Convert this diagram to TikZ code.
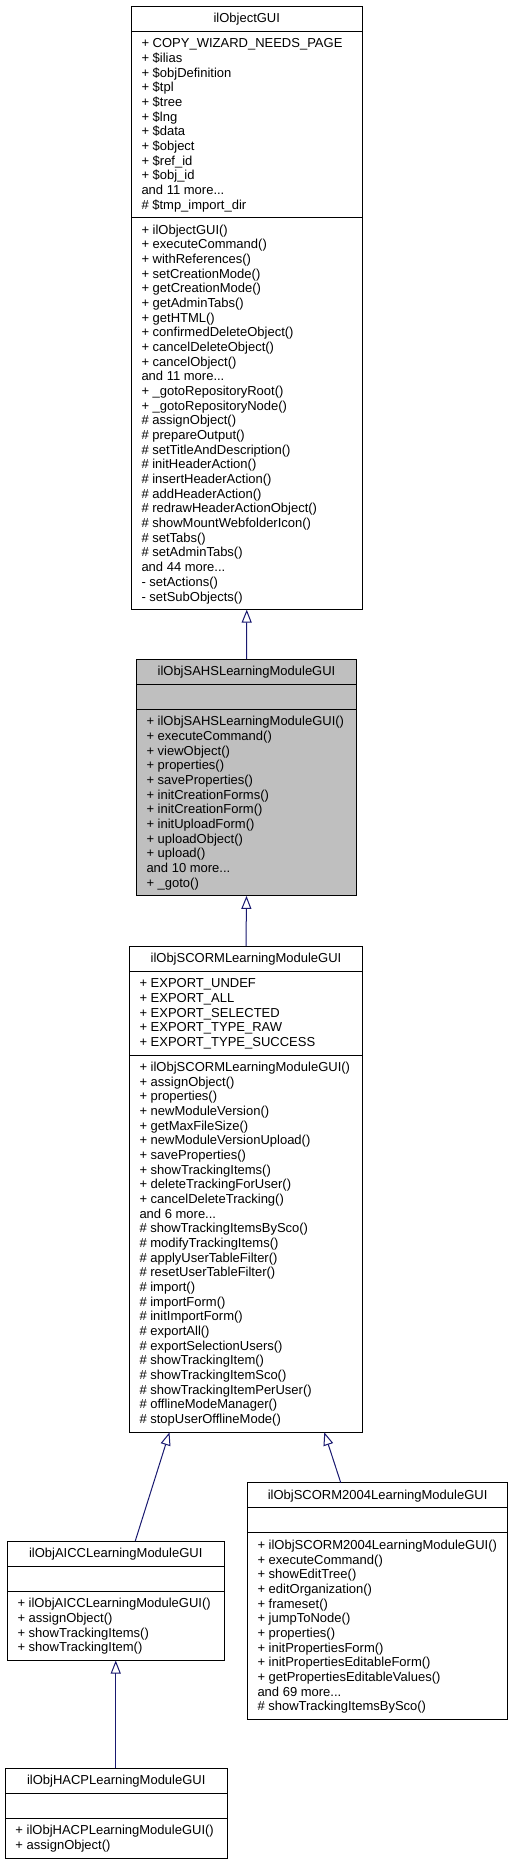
\documentclass[tikz,border=0pt]{standalone}
\usepackage{fontspec}
\setmainfont{Liberation Sans}
\usetikzlibrary{arrows.meta}
\definecolor{edgeblue}{HTML}{191970}
\definecolor{sahsgray}{HTML}{BFBFBF}
\newcommand\fs{\fontsize{13.0}{14.67}\selectfont}
\newcommand\ddd{...}
\tikzset{
  clsbox/.style={draw=black, line width=0.9pt},
  sepline/.style={draw=black, line width=0.9pt},
  txt/.style={anchor=base west, inner sep=0pt, outer sep=0pt, font=\fs},
  ttl/.style={anchor=base, inner sep=0pt, outer sep=0pt, font=\fs},
  inh/.style={draw=edgeblue, line width=1pt, -{Triangle[open, length=13pt, width=10pt, line width=1pt]}},
}
% #1 prefix, #2 text left x, #3 field top y, #4 list
\newcommand\flines[4]{%
  \foreach \t [count=\i from 0] in {#4} {
    \node[txt] (#1\i) at ({#2},{#3+5.25+\i*14.67+11.3}) {\t};
  }%
}
% #1 name, #2 left, #3 right, #4 top, #5 bottom, #6 fill, #7 title
\newcommand\clsframe[7]{%
  \node[clsbox, fill=#6, inner sep=0pt, outer sep=0pt, minimum width={(#3-#2)*1pt}, minimum height={(#5-#4)*1pt}] (#1) at ({(#2+#3)/2},{(#4+#5)/2}) {};
  \node[ttl] (#1-t) at ({(#2+#3)/2},{#4+5.25+11.3}) {#7};
}
\begin{document}
\begin{tikzpicture}[x=1pt,y=-1pt]
\path[use as bounding box, fill=white] (0,0) rectangle (515,1865);

% ilObjectGUI
\clsframe{objgui}{131.5}{362}{6}{609.6}{white}{ilObjectGUI}
\draw[sepline] (objgui.west |- 0,31.2) -- (objgui.east |- 0,31.2);
\draw[sepline] (objgui.west |- 0,217.7) -- (objgui.east |- 0,217.7);
\flines{objgui-a}{141.5}{31.2}{+ COPY\_WIZARD\_NEEDS\_PAGE, + \$ilias, + \$objDefinition, + \$tpl, + \$tree, + \$lng, + \$data, + \$object, + \$ref\_id, + \$obj\_id, and 11 more\ddd, \# \$tmp\_import\_dir}
\flines{objgui-m}{141.5}{217.7}{+ ilObjectGUI(), + executeCommand(), + withReferences(), + setCreationMode(), + getCreationMode(), + getAdminTabs(), + getHTML(), + confirmedDeleteObject(), + cancelDeleteObject(), + cancelObject(), and 11 more\ddd, + \_gotoRepositoryRoot(), + \_gotoRepositoryNode(), \# assignObject(), \# prepareOutput(), \# setTitleAndDescription(), \# initHeaderAction(), \# insertHeaderAction(), \# addHeaderAction(), \# redrawHeaderActionObject(), \# showMountWebfolderIcon(), \# setTabs(), \# setAdminTabs(), and 44 more\ddd, - setActions(), - setSubObjects()}

% ilObjSAHSLearningModuleGUI
\clsframe{sahs}{136.5}{356.5}{659}{895.9}{sahsgray}{ilObjSAHSLearningModuleGUI}
\draw[sepline] (sahs.west |- 0,684.2) -- (sahs.east |- 0,684.2);
\draw[sepline] (sahs.west |- 0,709.3) -- (sahs.east |- 0,709.3);
\flines{sahs-m}{146.5}{709.3}{+ ilObjSAHSLearningModuleGUI(), + executeCommand(), + viewObject(), + properties(), + saveProperties(), + initCreationForms(), + initCreationForm(), + initUploadForm(), + uploadObject(), + upload(), and 10 more\ddd, + \_goto()}

% ilObjSCORMLearningModuleGUI
\clsframe{scorm}{129.5}{362.5}{946}{1432.3}{white}{ilObjSCORMLearningModuleGUI}
\draw[sepline] (scorm.west |- 0,971.2) -- (scorm.east |- 0,971.2);
\draw[sepline] (scorm.west |- 0,1055) -- (scorm.east |- 0,1055);
\flines{scorm-a}{139.5}{971.2}{+ EXPORT\_UNDEF, + EXPORT\_ALL, + EXPORT\_SELECTED, + EXPORT\_TYPE\_RAW, + EXPORT\_TYPE\_SUCCESS}
\flines{scorm-m}{139.5}{1055}{+ ilObjSCORMLearningModuleGUI(), + assignObject(), + properties(), + newModuleVersion(), + getMaxFileSize(), + newModuleVersionUpload(), + saveProperties(), + showTrackingItems(), + deleteTrackingForUser(), + cancelDeleteTracking(), and 6 more\ddd, \# showTrackingItemsBySco(), \# modifyTrackingItems(), \# applyUserTableFilter(), \# resetUserTableFilter(), \# import(), \# importForm(), \# initImportForm(), \# exportAll(), \# exportSelectionUsers(), \# showTrackingItem(), \# showTrackingItemSco(), \# showTrackingItemPerUser(), \# offlineModeManager(), \# stopUserOfflineMode()}

% ilObjSCORM2004LearningModuleGUI
\clsframe{scormtwo}{247.5}{507.7}{1482.5}{1719.4}{white}{ilObjSCORM2004LearningModuleGUI}
\draw[sepline] (scormtwo.west |- 0,1507.7) -- (scormtwo.east |- 0,1507.7);
\draw[sepline] (scormtwo.west |- 0,1532.8) -- (scormtwo.east |- 0,1532.8);
\flines{scormtwo-m}{257.5}{1532.8}{+ ilObjSCORM2004LearningModuleGUI(), + executeCommand(), + showEditTree(), + editOrganization(), + frameset(), + jumpToNode(), + properties(), + initPropertiesForm(), + initPropertiesEditableForm(), + getPropertiesEditableValues(), and 69 more\ddd, \# showTrackingItemsBySco()}

% ilObjAICCLearningModuleGUI
\clsframe{aicc}{7.5}{224}{1541}{1660.5}{white}{ilObjAICCLearningModuleGUI}
\draw[sepline] (aicc.west |- 0,1566.2) -- (aicc.east |- 0,1566.2);
\draw[sepline] (aicc.west |- 0,1591.3) -- (aicc.east |- 0,1591.3);
\flines{aicc-m}{17.5}{1591.3}{+ ilObjAICCLearningModuleGUI(), + assignObject(), + showTrackingItems(), + showTrackingItem()}

% ilObjHACPLearningModuleGUI
\clsframe{hacp}{5.5}{227}{1768}{1858.2}{white}{ilObjHACPLearningModuleGUI}
\draw[sepline] (hacp.west |- 0,1793.2) -- (hacp.east |- 0,1793.2);
\draw[sepline] (hacp.west |- 0,1818.3) -- (hacp.east |- 0,1818.3);
\flines{hacp-m}{15.5}{1818.3}{+ ilObjHACPLearningModuleGUI(), + assignObject()}

% inheritance connectors
\draw[inh] (sahs.north) -- (objgui.south);
\draw[inh] (scorm.north) -- (sahs.south);
\draw[inh] ([xshift=19.5pt]aicc.north) -- ([xshift=-76.5pt]scorm.south);
\draw[inh] ([xshift=-36.9pt]scormtwo.north) -- ([xshift=78.3pt]scorm.south);
\draw[inh] ([xshift=-0.5pt]hacp.north) -- (aicc.south);
\end{tikzpicture}
\end{document}
